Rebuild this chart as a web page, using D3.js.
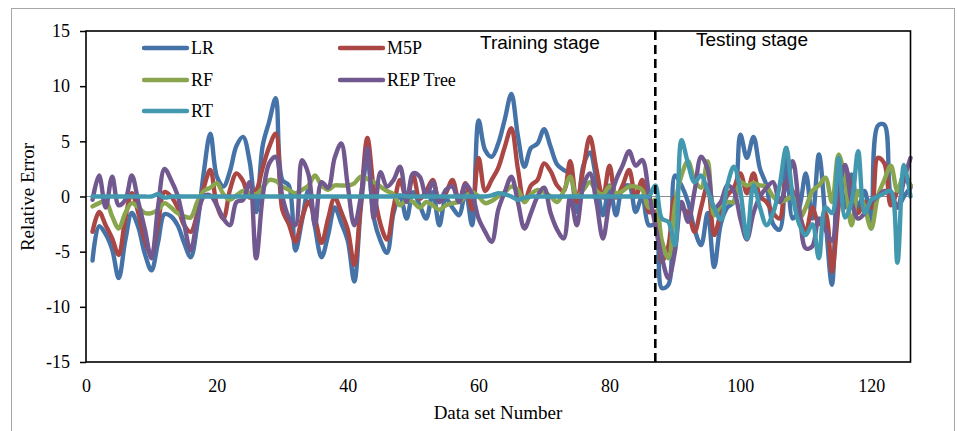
<!DOCTYPE html>
<html><head><meta charset="utf-8">
<script src="https://cdn.jsdelivr.net/npm/d3@7"></script>
<style>body{margin:0;background:#fff;} svg{display:block}</style>
</head><body><svg id="c" width="957" height="431"></svg>
<script>
const seriesNames = ["LR", "M5P", "RF", "REP Tree", "RT"];
const seriesColors = ["#4572A7", "#AA4643", "#89A54E", "#71588F", "#4198AF"];

const LR = [-5.8,-2.7,-3.4,-4.8,-7.4,-4.0,-1.5,-2.8,-5.2,-6.7,
-4.2,-1.6,-1.8,-2.6,-4.2,-5.5,-2.6,2.2,5.7,1.8,
0.9,2.3,4.6,5.4,3.2,-1.4,4.6,6.8,8.9,1.5,
1.0,-4.9,-2.2,0.6,-2.8,-5.5,-3.5,-1.0,-2.4,-4.0,
-7.7,-1.0,3.5,-2.0,-4.0,-5.1,-1.5,0.1,-2.0,0.4,
-0.8,-2.0,0.4,-2.6,-0.2,-1.0,-1.7,0.4,-2.6,6.9,
4.2,3.6,4.8,7.0,9.3,5.5,2.7,4.4,4.8,6.1,
4.5,2.9,2.4,2.0,-1.4,2.8,4.0,1.5,-1.7,1.0,
-1.7,0.8,1.0,-1.4,0.0,-2.6,-2.6,-8.3,-8.0,1.9,
1.0,-0.5,-3.0,-4.4,-1.5,-6.4,-2.5,-1.0,-0.5,5.6,
3.5,5.4,2.5,1.0,-2.5,-3.0,4.4,-2.0,-1.0,2.1,
-2.0,3.8,-2.0,-8.0,3.5,-1.0,2.0,-1.0,0.5,-2.9,
6.4,6.5,0.0,-1.0,0.0,0.8];

const M5P = [-3.2,-1.4,-2.6,-3.8,-5.3,-2.0,0.3,-1.5,-4.0,-5.3,
-2.5,0.4,0.0,-1.0,-2.6,-3.2,-1.6,0.8,2.4,-0.8,
-2.0,0.6,2.1,1.4,-0.1,0.5,2.6,4.5,5.7,-1.2,
-2.5,-4.1,-2.0,-0.5,-2.0,-4.2,-2.0,-0.1,-1.4,-3.0,
-6.2,-0.5,5.3,0.5,-2.5,-3.9,-1.0,1.5,-0.3,1.9,
-0.2,0.5,1.5,-0.5,0.3,1.5,-0.4,1.2,-1.2,3.5,
0.5,1.5,2.6,4.5,6.2,2.5,-0.5,1.0,1.5,3.0,
2.3,1.0,0.5,3.2,-0.5,2.5,5.4,2.5,-0.1,2.8,
-0.1,1.0,2.4,0.0,1.5,-1.4,-1.4,-5.9,-4.5,-0.1,
-1.0,-1.5,-3.2,-1.0,1.0,-3.5,-1.5,0.1,0.8,2.1,
0.3,2.1,0.0,-0.5,-1.5,-2.0,1.3,0.5,-1.5,-3.2,
-1.0,-2.5,-1.5,-6.8,-1.0,2.6,0.5,-1.5,-0.5,-1.0,
3.5,3.0,-0.8,0.5,1.5,1.0];

const RF = [-0.9,-0.6,-0.4,-1.8,-2.9,-1.5,-0.6,-1.0,-1.5,-1.5,
-1.2,-0.6,-1.0,-1.5,-1.8,-1.9,-0.5,0.5,0.8,1.2,
0.2,-0.3,0.1,0.5,0.3,0.2,0.8,1.5,1.4,0.9,
0.6,0.3,0.6,1.0,1.9,1.0,0.6,1.0,1.0,1.0,
1.2,1.8,1.6,1.3,0.9,0.5,0.2,-0.8,-0.3,-0.5,
-1.0,-0.5,-0.8,-1.2,-0.8,-0.6,-0.5,0.0,0.4,0.0,
-0.6,-0.4,0.0,0.4,0.9,0.6,-0.5,0.2,0.6,0.4,
0.0,-0.5,0.5,1.8,0.0,0.6,1.3,0.5,0.2,0.9,
0.3,0.5,0.9,0.9,0.6,-1.0,-0.3,-4.0,-5.6,-0.8,
1.9,3.2,1.5,0.8,3.2,-1.7,-0.8,-0.5,-0.5,1.3,
1.0,1.2,1.0,0.9,0.0,-0.5,-0.3,0.0,-2.0,-1.0,
0.5,1.0,1.7,-0.5,3.8,1.5,-2.6,0.5,-1.0,-2.9,
0.0,1.5,2.8,0.5,2.0,1.0];

const REPTree = [-0.3,1.9,-1.0,1.8,-0.8,-0.3,1.9,-0.5,-3.0,-5.6,
-1.0,2.5,1.5,0.1,-2.5,-4.9,-2.0,0.0,0.1,-0.8,
-2.0,-2.6,-0.5,-0.3,1.3,-5.6,0.0,3.0,3.6,0.0,
-1.9,-2.6,3.3,2.0,-2.6,1.3,0.8,3.5,4.8,1.0,
-2.6,0.0,4.4,-2.0,2.2,0.9,1.5,2.7,-0.5,2.1,
1.8,0.0,1.3,-0.5,0.6,0.9,-0.5,1.1,0.2,-2.0,
-3.2,-4.1,-1.2,0.4,1.8,-0.5,-2.9,-1.5,0.0,0.8,
-1.5,-3.0,-3.8,0.0,-2.6,1.0,2.1,-0.5,-3.8,-0.5,
1.5,2.8,4.1,2.8,3.3,0.4,-2.6,-5.5,-7.4,-5.0,
-0.5,-2.3,0.5,3.6,2.5,-1.0,-0.5,1.0,0.5,-2.0,
-3.9,-1.5,0.0,0.8,1.3,-0.5,1.0,3.2,-1.0,-4.7,
-4.5,-2.0,-3.0,-4.0,0.5,2.85,-0.5,-2.0,-1.5,-0.5,
0.0,0.5,0.3,-1.0,1.5,3.5];

const RT = [0.0,0.0,0.0,0.0,0.0,0.0,0.0,0.0,0.0,0.0,
0.2,-0.1,0.0,0.0,0.0,0.0,0.0,0.0,0.0,0.0,
0.0,0.0,0.0,0.0,0.0,0.0,0.0,0.0,0.0,0.0,
0.0,0.0,0.0,0.0,0.0,0.0,0.0,0.0,0.0,0.0,
0.0,0.0,0.0,0.0,0.0,0.0,0.0,0.1,0.0,0.0,
0.0,0.0,0.0,0.0,0.0,0.0,0.0,0.0,0.0,0.0,
0.0,0.1,0.3,0.2,0.0,-0.3,-0.1,0.0,0.0,0.0,
0.0,0.0,0.0,0.0,0.0,0.0,0.0,0.0,0.0,0.0,
0.0,0.0,0.0,0.0,0.0,0.0,1.0,-2.0,-2.3,-4.4,
5.1,3.0,1.3,1.9,0.5,-1.0,-2.1,1.0,2.7,0.5,
-3.8,1.0,-1.0,-2.6,-1.5,1.0,4.4,0.0,-2.5,-3.5,
-2.5,-5.6,-1.0,-1.5,3.5,-1.9,-0.5,4.1,-1.5,-0.3,
0.0,0.3,0.5,-6.0,2.85,0.0];

const seriesValues = [LR, M5P, RF, REPTree, RT];
const xTicks = [0, 20, 40, 60, 80, 100, 120];
const yTicks = [-15, -10, -5, 0, 5, 10, 15];
const xDomain = [0, 126];
const yDomain = [-15, 15];
const splitAt = 87;
const stageLabels = ["Training stage", "Testing stage"];
const xTitle = "Data set Number";
const yTitle = "Relative Error";

const svg = d3.select("#c");
const L = 86, R = 910.5, T = 31, B = 362;
const x = d3.scaleLinear().domain(xDomain).range([L, R]);
const y = d3.scaleLinear().domain(yDomain).range([B, T]);
const serif = "'Liberation Serif', 'Times New Roman', serif";
const fmt = d => String(d);

// outer chart border
svg.append("rect").attr("x", 11.5).attr("y", 8.5).attr("width", 943).attr("height", 440)
  .attr("fill", "#fff").attr("stroke", "#a6a6a6").attr("stroke-width", 1);

// zero line
svg.append("line").attr("x1", L).attr("x2", R).attr("y1", y(0)).attr("y2", y(0))
  .attr("stroke", "#8c8c8c").attr("stroke-width", 1.2);

// y axis
const yAxis = svg.append("g").attr("transform", `translate(${L},0)`)
  .call(d3.axisLeft(y).tickValues(yTicks).tickSize(6).tickPadding(10).tickFormat(fmt));
yAxis.select(".domain").remove();
yAxis.selectAll(".tick line").attr("stroke", "#000").attr("stroke-width", 1.5);
yAxis.selectAll("text").attr("font-family", serif).attr("font-size", 18).attr("fill", "#000");

// x axis
const xAxis = svg.append("g").attr("transform", `translate(0,${B})`)
  .call(d3.axisBottom(x).tickValues(xTicks).tickSize(0).tickPadding(17).tickFormat(fmt));
xAxis.select(".domain").remove();
xAxis.selectAll("text").attr("font-family", serif).attr("font-size", 18).attr("fill", "#000");

// series
const line = d3.line().x((d, i) => x(i + 1)).y(d => y(d)).curve(d3.curveCatmullRom.alpha(0.5));
seriesValues.forEach((vals, k) => {
  svg.append("path").datum(vals).attr("d", line).attr("fill", "none")
    .attr("stroke", seriesColors[k]).attr("stroke-width", 4.4)
    .attr("stroke-linejoin", "round").attr("stroke-linecap", "round");
});

// plot frame
svg.append("rect").attr("x", L).attr("y", T).attr("width", R - L).attr("height", B - T)
  .attr("fill", "none").attr("stroke", "#000").attr("stroke-width", 1.6);

// split dashed line
svg.append("line").attr("x1", x(splitAt)).attr("x2", x(splitAt)).attr("y1", T).attr("y2", B)
  .attr("stroke", "#000").attr("stroke-width", 2.6).attr("stroke-dasharray", "9,5");

// stage labels
svg.append("text").attr("x", 480).attr("y", 49).text(stageLabels[0])
  .attr("font-family", "'Liberation Sans', Arial, sans-serif").attr("font-size", 19).attr("fill", "#000");
svg.append("text").attr("x", 696).attr("y", 46).text(stageLabels[1])
  .attr("font-family", "'Liberation Sans', Arial, sans-serif").attr("font-size", 19).attr("fill", "#000");

// legend
const legendPos = [[144, 48], [340, 48], [144, 80], [340, 80], [144, 111]];
seriesNames.forEach((n, k) => {
  const [lx, ly] = legendPos[k];
  svg.append("line").attr("x1", lx).attr("x2", lx + 43).attr("y1", ly).attr("y2", ly)
    .attr("stroke", seriesColors[k]).attr("stroke-width", 4.4).attr("stroke-linecap", "round");
  svg.append("text").attr("x", lx + 47).attr("y", ly + 6).text(n)
    .attr("font-family", serif).attr("font-size", 18).attr("fill", "#000");
});

// axis titles
svg.append("text").attr("x", 498).attr("y", 419).attr("text-anchor", "middle").text(xTitle)
  .attr("font-family", serif).attr("font-size", 19).attr("fill", "#000");
svg.append("text").attr("transform", `translate(34,197) rotate(-90)`).attr("text-anchor", "middle").text(yTitle)
  .attr("font-family", serif).attr("font-size", 19).attr("fill", "#000");
</script>
</body></html>
